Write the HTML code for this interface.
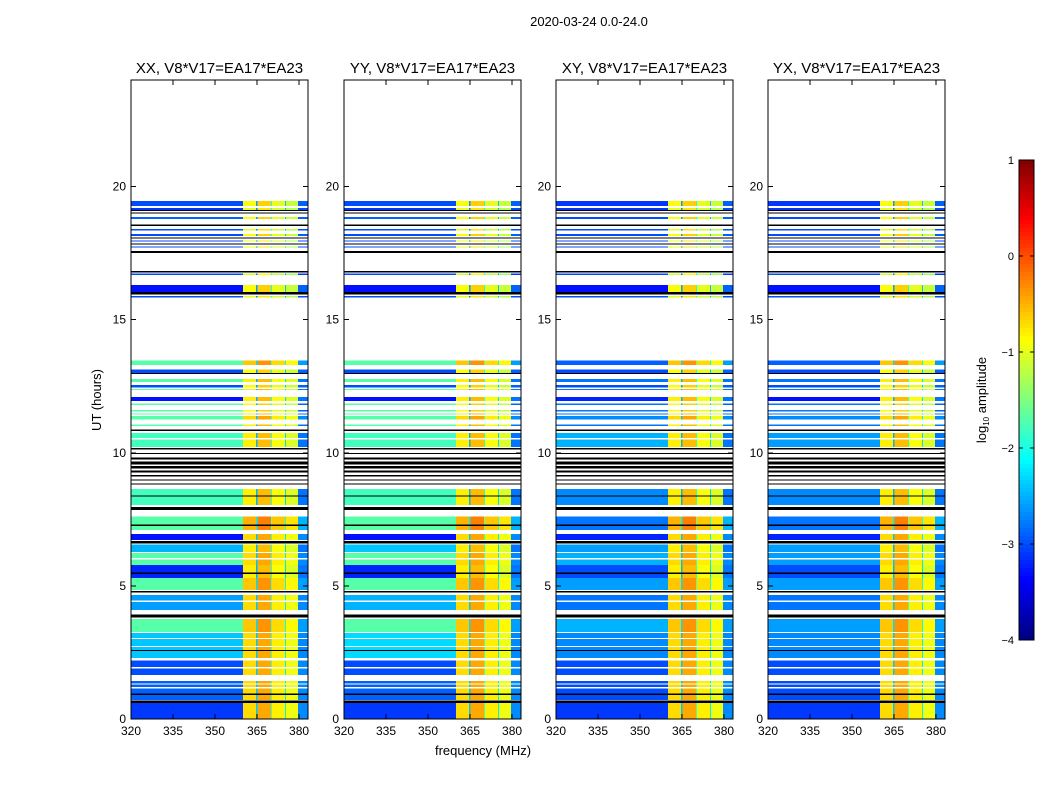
<!DOCTYPE html>
<html><head><meta charset="utf-8"><style>
html,body{margin:0;padding:0;background:#fff;}
svg{display:block;font-family:"Liberation Sans",sans-serif;}
</style></head><body>
<svg id="chart" width="1050" height="800" viewBox="0 0 1050 800" xmlns="http://www.w3.org/2000/svg" shape-rendering="crispEdges">
<text x="589" y="26" font-size="13" text-anchor="middle">2020-03-24 0.0-24.0</text>
<text transform="translate(101,400) rotate(-90)" font-size="13" text-anchor="middle">UT (hours)</text>
<text x="483" y="755" font-size="13" text-anchor="middle">frequency (MHz)</text>
<g id="panels"></g>
<g id="cbar"></g>
<text transform="translate(986,400) rotate(-90)" font-size="13" text-anchor="middle">log<tspan font-size="8" dy="3">10</tspan><tspan dy="-3"> amplitude</tspan></text>
</svg>
<script>
const panelTitles = ["XX, V8*V17=EA17*EA23","YY, V8*V17=EA17*EA23","XY, V8*V17=EA17*EA23","YX, V8*V17=EA17*EA23"];
const xTicks = [320,335,350,365,380];
const yTicks = [0,5,10,15,20];
const cbTicks = [1,0,-1,-2,-3,-4];
const segStart = [19.27,19.12,19.08,18.98,18.78,18.52,18.34,18.15,18.05,17.93,17.82,17.71,17.5,16.77,16.68,16.04,15.95,15.83,13.3,13.0,12.95,12.66,12.45,12.35,11.95,11.8,11.55,11.43,11.25,11.0,10.82,10.22,10.5,10.12,9.95,9.75,9.55,9.4,9.25,9.1,8.95,8.8,8.04,8.35,7.85,7.1,7.25,6.72,6.6,6.27,5.78,6.0,5.3,5.45,4.85,4.75,4.1,4.4,3.82,3.27,2.29,3.0,2.7,2.55,1.65,1.9,0.71,1.15,0.9,1.3,0.6,0];
const segEnd   = [19.46,19.2,19.12,19.03,18.86,18.57,18.4,18.21,18.09,17.97,17.86,17.75,17.58,16.82,16.73,16.3,16.03,15.88,13.46,13.12,13.0,12.77,12.55,12.4,12.1,11.85,11.6,11.48,11.38,11.06,10.87,10.74,10.55,10.18,10.0,9.82,9.68,9.5,9.33,9.17,9.0,8.85,8.64,8.4,7.97,7.6,7.3,6.95,6.68,6.55,6.23,6.04,5.78,5.5,5.3,4.8,4.66,4.45,3.92,3.75,3.23,3.05,2.74,2.6,2.2,1.95,1.43,1.2,0.95,1.34,0.7,0.6];
const segType  = ["d","d","k","k","d","k","d","d","k","d","k","d","k","k","d","d","k","d","d","d","k","d","d","d","d","d","d","d","d","d","k","d","w","k","k","k","k","k","k","k","k","k","d","k","k","d","k","d","k","d","d","w","d","k","d","k","d","w","k","d","d","w","w","k","d","w","d","w","k","w","k","d"];
const lowXX = [-3.0,-3.1,0,0,-2.9,0,-3.0,-3.0,0,-3.0,0,-3.0,0,0,-3.0,-3.3,0,-3.0,-1.7,-3.0,0,-1.7,-3.0,-1.7,-3.3,-1.7,-1.7,-1.7,-1.7,-1.7,0,-1.8,0,0,0,0,0,0,0,0,0,0,-1.8,0,0,-1.7,0,-3.3,0,-2.5,-1.7,0,-3.2,0,-1.7,0,-2.6,0,0,-1.7,-2.4,0,0,0,-3.0,0,-2.9,0,0,0,0,-3.1];
const lowYY = [-3.0,-3.1,0,0,-2.9,0,-3.0,-3.0,0,-3.0,0,-3.0,0,0,-3.0,-3.3,0,-3.0,-1.7,-3.0,0,-1.7,-3.0,-1.7,-3.3,-1.7,-1.7,-1.7,-1.7,-1.7,0,-1.8,0,0,0,0,0,0,0,0,0,0,-1.8,0,0,-1.7,0,-3.3,0,-2.4,-1.7,0,-3.2,0,-1.7,0,-2.5,0,0,-1.7,-2.3,0,0,0,-3.0,0,-2.9,0,0,0,0,-3.1];
const lowXY = [-3.1,-3.1,0,0,-3.0,0,-3.0,-3.0,0,-3.0,0,-3.0,0,0,-3.0,-3.3,0,-3.0,-2.9,-3.0,0,-2.8,-3.0,-2.8,-3.2,-2.8,-2.8,-2.8,-2.7,-2.8,0,-2.5,0,0,0,0,0,0,0,0,0,0,-2.7,0,0,-2.8,0,-3.2,0,-2.6,-2.5,0,-3.0,0,-2.6,0,-2.8,0,0,-2.5,-2.7,0,0,0,-3.0,0,-3.0,0,0,0,0,-3.1];
const lowYX = [-3.1,-3.1,0,0,-3.0,0,-3.0,-3.0,0,-3.0,0,-3.0,0,0,-3.0,-3.3,0,-3.0,-2.9,-3.0,0,-2.8,-3.0,-2.8,-3.3,-2.8,-2.8,-2.8,-2.7,-2.8,0,-2.6,0,0,0,0,0,0,0,0,0,0,-2.7,0,0,-2.8,0,-3.2,0,-2.6,-2.6,0,-3.0,0,-2.6,0,-2.8,0,0,-2.6,-2.7,0,0,0,-3.0,0,-3.0,0,0,0,0,-3.1];
const highLvl = [-0.8,-0.9,0,0,-0.8,0,-0.9,-0.8,0,-0.9,0,-0.9,0,0,-1.0,-0.8,0,-0.9,-0.5,-0.8,0,-0.7,-0.8,-0.7,-0.7,-0.8,-0.8,-0.7,-0.6,-0.7,0,-0.7,0,0,0,0,0,0,0,0,0,0,-0.7,0,0,-0.4,0,-0.6,0,-0.7,-0.6,0,-0.7,0,-0.5,0,-0.6,0,0,-0.5,-0.6,0,0,0,-0.6,0,-0.6,0,0,0,0,-0.6];
const lowSets = [lowXX,lowYY,lowXY,lowYX];
const colEdges = [360,364.6,365.1,370.0,370.4,374.9,375.4,379.6,383.2];
const colOffset = [-0.1,-1.8,0.15,-1.2,-0.2,-1.6,-0.35,-2.1];

const NS="http://www.w3.org/2000/svg";
const panelX=[131,344,556,768], PW=177, PT=80, PB=719;
const fMin=320, fMax=383.2, hMin=0, hMax=24;
function mk(t,a,p){const e=document.createElementNS(NS,t);for(const k in a)e.setAttribute(k,a[k]);p.appendChild(e);return e;}
function xs(f,i){return panelX[i]+(f-fMin)/(fMax-fMin)*PW;}
function ys(h){return PB-(h-hMin)/(hMax-hMin)*(PB-PT);}
function clip(v){return Math.max(0,Math.min(1,v));}
function jet(v){const x=clip((v+4)/5);const r=clip(1.5-Math.abs(4*x-3)),g=clip(1.5-Math.abs(4*x-2)),b=clip(1.5-Math.abs(4*x-1));return `rgb(${Math.round(r*255)},${Math.round(g*255)},${Math.round(b*255)})`;}
const panels=document.getElementById('panels');
for(let p=0;p<4;p++){
  const g=mk('g',{},panels);
  
  
  for(let s=0;s<segStart.length;s++){
    const y1=ys(segEnd[s]), y2=ys(segStart[s]);
    const h=Math.max(1,y2-y1);
    if(segType[s]==='d'){
      const r=mk('rect',{x:xs(fMin,p),y:y1,width:xs(360,p)-xs(fMin,p),height:h,fill:jet(lowSets[p][s])},g);
      
      
      for(let c=0;c<colOffset.length;c++){
        const rc=mk('rect',{x:xs(colEdges[c],p),y:y1,width:xs(colEdges[c+1],p)-xs(colEdges[c],p),height:h,fill:jet(highLvl[s]+colOffset[c])},g);
        
        
      }
    } else {
      const r=mk('rect',{x:xs(fMin,p),y:y1,width:PW,height:h,fill:segType[s]==='k'?'#000':'#fff'},g);
      
      
    }
  }
  const fr=mk('rect',{x:panelX[p],y:PT,width:PW,height:PB-PT,fill:'none',stroke:'#000','stroke-width':1},g);
  
  
  const tt=mk('text',{x:panelX[p]+PW/2,y:PT-7,'font-size':15,'text-anchor':'middle'},g);
  tt.textContent=panelTitles[p];
  
  
  xTicks.forEach(f=>{
    const x=xs(f,p);
    mk('line',{x1:x,y1:PB,x2:x,y2:PB-5,stroke:'#000'},g);
    mk('line',{x1:x,y1:PT,x2:x,y2:PT+5,stroke:'#000'},g);
    const t=mk('text',{x:x,y:PB+16,'font-size':12,'text-anchor':'middle'},g);
    t.textContent=f;
    
    
  });
  yTicks.forEach(v=>{
    const y=ys(v);
    mk('line',{x1:panelX[p],y1:y,x2:panelX[p]+5,y2:y,stroke:'#000'},g);
    mk('line',{x1:panelX[p]+PW,y1:y,x2:panelX[p]+PW-5,y2:y,stroke:'#000'},g);
    const t=mk('text',{x:panelX[p]-5,y:y+4,'font-size':12,'text-anchor':'end'},g);
    t.textContent=v;
    
    
  });
}
const cb=document.getElementById('cbar');
const cx=1019,cw=15,cTop=160,cBot=640,steps=120;
for(let i=0;i<steps;i++){
  const v=1-(i+0.5)*5/steps;
  mk('rect',{x:cx,y:cTop+i*(cBot-cTop)/steps,width:cw,height:(cBot-cTop)/steps+0.6,fill:jet(v)},cb);
}
mk('rect',{x:cx,y:cTop,width:cw,height:cBot-cTop,fill:'none',stroke:'#000'},cb);
cbTicks.forEach(v=>{
  const y=cTop+(1-v)/5*(cBot-cTop);
  mk('line',{x1:cx,y1:y,x2:cx+4,y2:y,stroke:'#000'},cb);
  mk('line',{x1:cx+cw,y1:y,x2:cx+cw-4,y2:y,stroke:'#000'},cb);
  const t=mk('text',{x:cx-5,y:y+4,'font-size':11,'text-anchor':'end'},cb);
  t.textContent=v<0?'\u2212'+(-v):String(v);
  
  
});
</script>
</body></html>
